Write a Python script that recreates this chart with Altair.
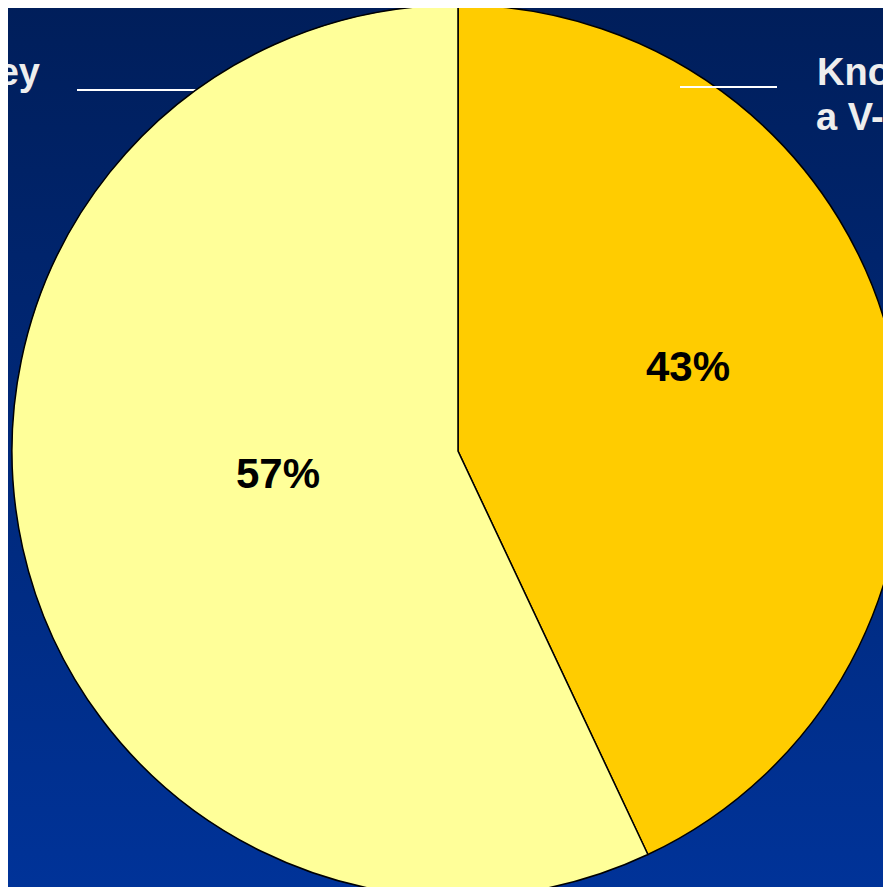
import altair as alt
import pandas as pd

# ---- data ----
categories = ["Know someone (a V-…)", "…ey"]
values = [43, 57]
order_idx = [0, 1]
slice_colors = ["#FFCC00", "#FFFF99"]
pct_labels = ["43%", "57%"]
right_label_lines = ["Kno", "a V-"]
left_label_lines = ["ey"]

df = pd.DataFrame({"category": categories, "value": values, "idx": order_idx})

W, H = 875, 879
CX, CY, R = 450, 443, 446
FONT = "Liberation Sans"

one = pd.DataFrame({"a": [0]})

bg = alt.Chart(one).mark_rect(
    fill=alt.LinearGradient(
        gradient="linear",
        stops=[alt.GradientStop(color="#001E5A", offset=0),
               alt.GradientStop(color="#003399", offset=1)],
        x1=0, x2=0, y1=0, y2=1,
    )
).encode(x=alt.value(-8), x2=alt.value(W + 8), y=alt.value(-8), y2=alt.value(H + 8))

left_line = alt.Chart(one).mark_rule(color="white", strokeWidth=2).encode(
    x=alt.value(69), x2=alt.value(192), y=alt.value(82))

pie = alt.Chart(df).mark_arc(radius=R, stroke="black", strokeWidth=1.5).encode(
    theta=alt.Theta("value:Q", stack=True),
    color=alt.Color("category:N", scale=alt.Scale(domain=categories, range=slice_colors), legend=None),
    order=alt.Order("idx:Q", sort="ascending"),
    x=alt.value(CX), y=alt.value(CY),
)

right_line = alt.Chart(one).mark_rule(color="white", strokeWidth=2).encode(
    x=alt.value(672), x2=alt.value(769), y=alt.value(79))

def txt(s, x, y, align, size, color):
    return alt.Chart(pd.DataFrame({"t": [s]})).mark_text(
        align=align, baseline="alphabetic", font=FONT, fontWeight="bold",
        fontSize=size, color=color,
    ).encode(text="t:N", x=alt.value(x), y=alt.value(y))

pct1 = txt(pct_labels[0], 680, 373, "center", 42, "black")
pct2 = txt(pct_labels[1], 270, 480, "center", 42, "black")
r1 = txt(right_label_lines[0], 809, 77, "left", 38, "#EEEEEE")
r2 = txt(right_label_lines[1], 808, 122, "left", 38, "#EEEEEE")
l1 = txt(left_label_lines[0], 32, 77, "right", 38, "#EEEEEE")

chart = alt.layer(bg, left_line, pie, right_line, pct1, pct2, r1, r2, l1).properties(
    width=W, height=H, padding=0, autosize=alt.AutoSizeParams(type="none")
).configure_view(stroke=None)

chart.save("out.html", embed_options={"renderer": "svg", "actions": False})
